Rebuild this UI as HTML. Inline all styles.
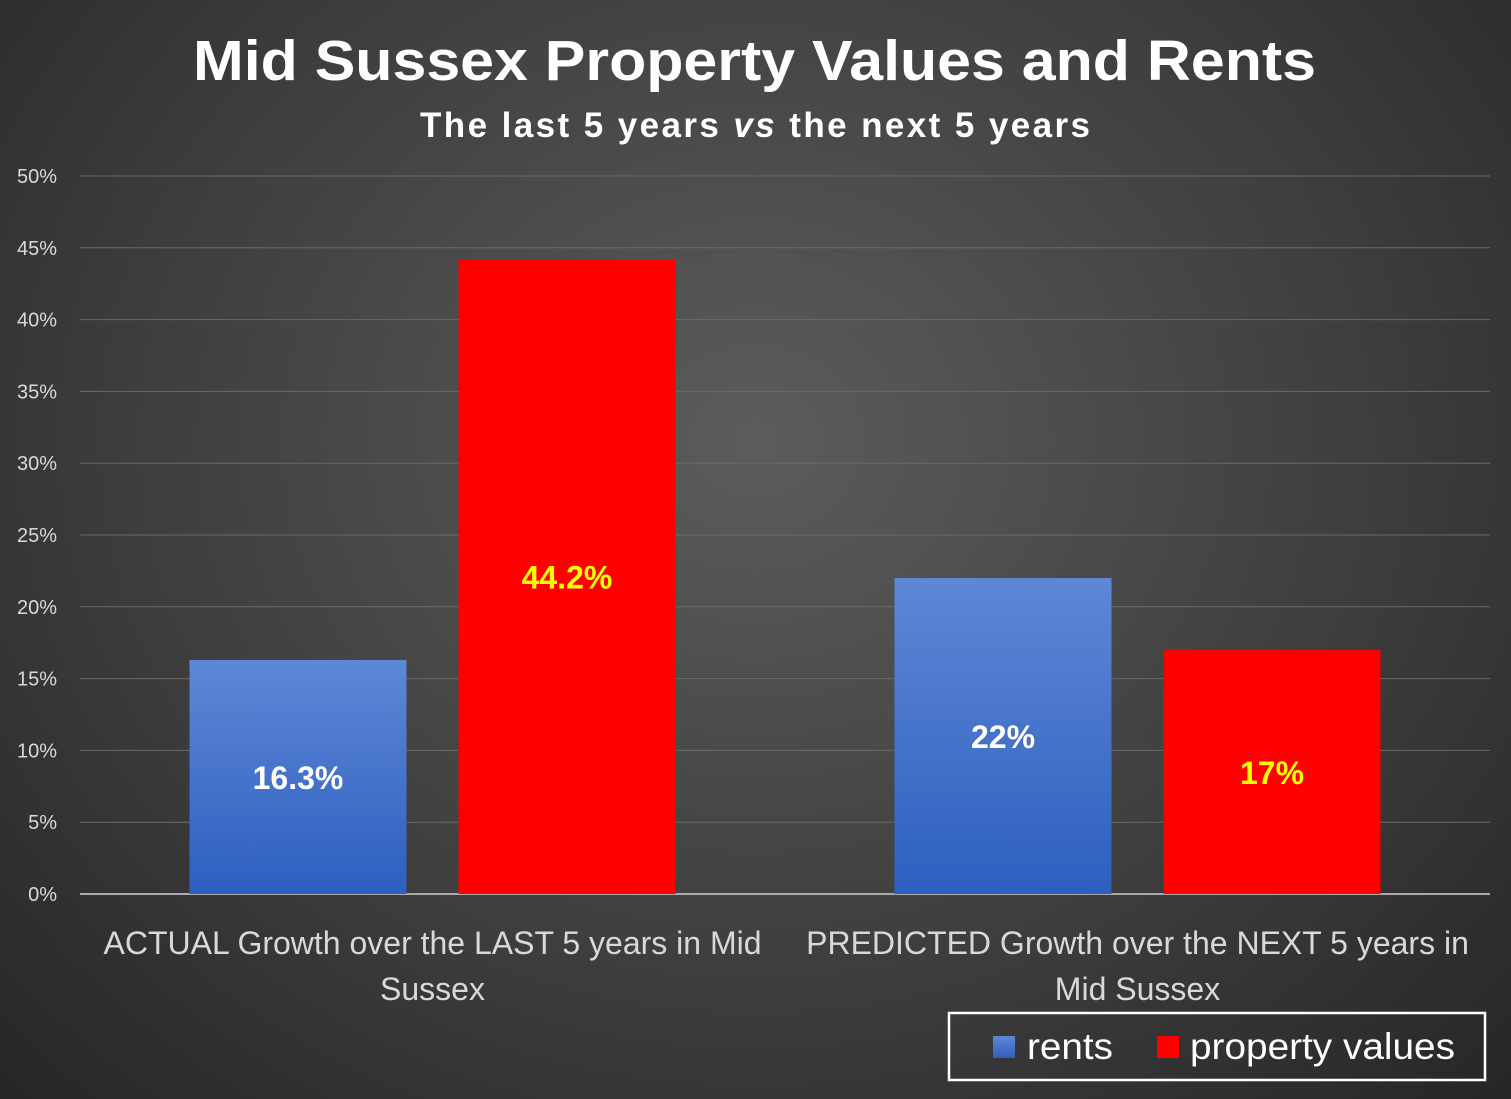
<!DOCTYPE html>
<html><head><meta charset="utf-8"><style>
html,body{margin:0;width:1511px;height:1099px;overflow:hidden;}
body{background:radial-gradient(ellipse at 50% 40%,#5c5c5c 0%,#3f3f3f 55%,#262626 100%);font-family:"Liberation Sans",sans-serif;}
svg{display:block;}
</style></head><body>
<svg width="1511" height="1099">
<defs><linearGradient id="bg" x1="0" y1="0" x2="0" y2="1"><stop offset="0" stop-color="#5d88d6"/><stop offset="1" stop-color="#2e5fc0"/></linearGradient></defs>
<text x="193" y="80" font-size="57" font-weight="bold" fill="#fff" textLength="1123" lengthAdjust="spacingAndGlyphs">Mid Sussex Property Values and Rents</text>
<text x="420" y="137" font-size="35" font-weight="bold" fill="#fff" textLength="670" lengthAdjust="spacing">The last 5 years <tspan font-style="italic">vs</tspan> the next 5 years</text>
<g id="grid"></g><g id="bars"></g><g id="labels"></g>
<g>
<rect x="949" y="1013" width="536" height="67" fill="none" stroke="#fff" stroke-width="2.5"/>
<rect x="993" y="1036" width="22" height="22" fill="url(#bg)"/>
<text x="1027" y="1059" font-size="37" fill="#fff" textLength="86" lengthAdjust="spacingAndGlyphs">rents</text>
<rect x="1157" y="1036" width="22" height="22" fill="#f00"/>
<text x="1190" y="1059" font-size="37" fill="#fff" textLength="265" lengthAdjust="spacingAndGlyphs">property values</text>
</g>
</svg>
<script>
const ticks=[0,5,10,15,20,25,30,35,40,45,50];
const categories=[["ACTUAL Growth over the LAST 5 years in Mid","Sussex"],["PREDICTED Growth over the NEXT 5 years in","Mid Sussex"]];
const rents=[16.3,22];
const propertyValues=[44.2,17];
const rentLabels=["16.3%","22%"];
const valueLabels=["44.2%","17%"];
const NS="http://www.w3.org/2000/svg";
const x0=80,x1=1490,y0=894,y50=176;
const y=v=>y0-(v/50)*(y0-y50);
const catW=(x1-x0)/categories.length;
const cx=i=>x0+catW*(i+0.5);
function mk(t,a,p){const e=document.createElementNS(NS,t);for(const k in a)e.setAttribute(k,a[k]);p.appendChild(e);return e;}
const g=document.getElementById('grid'),b=document.getElementById('bars'),l=document.getElementById('labels');
ticks.forEach(t=>{
 const ln=mk('line',{x1:x0,x2:x1,y1:y(t),y2:y(t),stroke:t===0?'#aaa':'#6a6a6a','stroke-width':t===0?2:1},g);
 
 
 const tx=mk('text',{x:57,y:y(t)+7,'text-anchor':'end','font-size':20,fill:'#d9d9d9'},g);
 tx.textContent=t+'%';
 
 
});
const bw=217,gap=52;
categories.forEach((c,i)=>{
 const c0=cx(i);
 const bx1=c0-gap/2-bw,bx2=c0+gap/2;
 const r1=mk('rect',{x:bx1,y:y(rents[i]),width:bw,height:y0-y(rents[i]),fill:'url(#bg)'},b);
 
 
 const r2=mk('rect',{x:bx2,y:y(propertyValues[i]),width:bw,height:y0-y(propertyValues[i]),fill:'#f00'},b);
 
 
 const t1=mk('text',{x:bx1+bw/2,y:(y(rents[i])+y0)/2+12,'text-anchor':'middle','font-size':32,'font-weight':'bold',fill:'#fff'},l);
 t1.textContent=rentLabels[i];
 
 
 const t2=mk('text',{x:bx2+bw/2,y:(y(propertyValues[i])+y0)/2+12,'text-anchor':'middle','font-size':32,'font-weight':'bold',fill:'#ff0'},l);
 t2.textContent=valueLabels[i];
 
 
 c.forEach((line,j)=>{
  const ct=mk('text',{x:c0,y:954+j*46,'text-anchor':'middle','font-size':32,fill:'#d9d9d9'},l);
  ct.textContent=line;
  
  
 });
});
</script>
</body></html>
